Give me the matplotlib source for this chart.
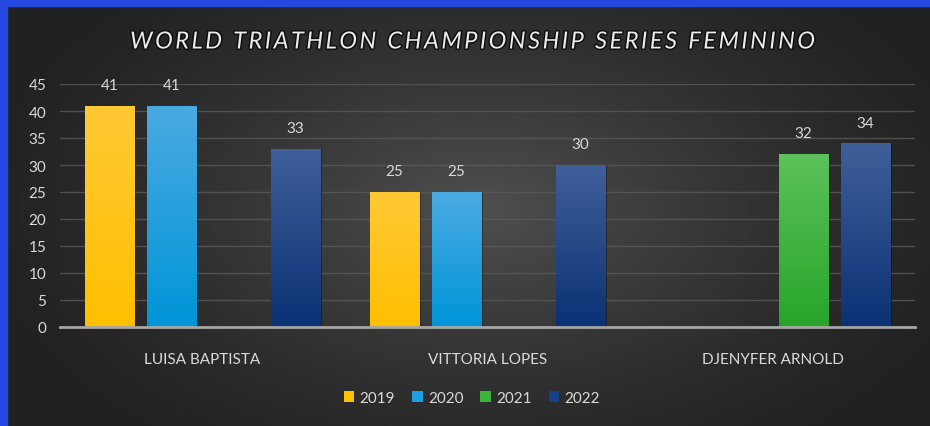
"""
World Triathlon Championship Series - feminino, bar chart with dark gradient look.
"""

import matplotlib

matplotlib.use("Agg")

import matplotlib.pyplot as plt
import matplotlib.patheffects as pe
from matplotlib.colors import LinearSegmentedColormap
from matplotlib.patches import Patch, Rectangle
import numpy as np

TITLE = "WORLD TRIATHLON CHAMPIONSHIP SERIES FEMININO"
ATHLETES = ["LUISA BAPTISTA", "VITTORIA LOPES", "DJENYFER ARNOLD"]
YEARS = ["2019", "2020", "2021", "2022"]
VALUES = {
    "2019": [41, 25, np.nan],
    "2020": [41, 25, np.nan],
    "2021": [np.nan, np.nan, 32],
    "2022": [33, 30, 34],
}
# (top colour, bottom colour) of each gradient
GRADIENTS = {
    "2019": ("#ffc935", "#ffbf00"),
    "2020": ("#4aaae2", "#0095d8"),
    "2021": ("#5cc15a", "#27a529"),
    "2022": ("#3f5f99", "#0b3175"),
}
LEGEND_COLORS = {"2019": "#ffc000", "2020": "#1ba1e2", "2021": "#3cb43c", "2022": "#153f86"}

TEXT_COLOR = "#d9d9d9"
FONT = ["Lato", "DejaVu Sans"]


def draw_background(fig):
    bg = fig.add_axes([0, 0, 1, 1], zorder=-10)
    h, w = 427, 930
    yy, xx = np.mgrid[0:h, 0:w]
    d = np.sqrt(((xx - 480) / 520.0) ** 2 + ((yy - 210) / 300.0) ** 2)
    shade = np.clip(1 - d, 0, 1) ** 1.3
    lo, hi = np.array([0.13, 0.13, 0.13]), np.array([0.31, 0.31, 0.31])
    img = lo + (hi - lo) * shade[..., None]
    bg.imshow(img, extent=(0, 1, 0, 1), aspect="auto", origin="upper")
    bg.set_axis_off()
    # blue frame on top and left only
    fig.patches.append(Rectangle((0, 1 - 7 / 427), 1, 7 / 427, transform=fig.transFigure,
                                 color="#2349e0", zorder=5))
    fig.patches.append(Rectangle((0, 0), 7 / 930, 1, transform=fig.transFigure,
                                 color="#2349e0", zorder=5))


def draw_spaced_title(fig, text, x_left, x_right, y):
    # letter-spaced title: place each character on its own
    renderer = fig.canvas.get_renderer()
    style = dict(fontsize=17, style="italic", color="#ececec", va="center", ha="left",
                 path_effects=[pe.withStroke(linewidth=2.2, foreground="#101010")])
    widths = []
    for ch in text:
        t = fig.text(0, 0, ch if ch != " " else "n", **style)
        widths.append(t.get_window_extent(renderer).width * (0.5 if ch == " " else 1.0))
        t.remove()
    fig_w = fig.get_figwidth() * fig.dpi
    gap = (x_right - x_left - sum(widths)) / (len(text) - 1)
    pos = x_left
    for ch, w in zip(text, widths):
        if ch != " ":
            fig.text(pos / fig_w, y, ch, **style)
        pos += w + gap


def main():
    plt.rcParams["font.family"] = FONT
    fig = plt.figure(figsize=(9.3, 4.27), dpi=100)
    draw_background(fig)

    ax = fig.add_axes([60 / 930, 1 - 328 / 427, 855 / 930, 243 / 427])
    ax.patch.set_alpha(0)

    x = np.arange(len(ATHLETES))
    step = 0.2175
    width = 0.175
    for i, year in enumerate(YEARS):
        offs = (i - 1.5) * step
        vals = np.array(VALUES[year], dtype=float)
        bars = ax.bar(x + offs, np.nan_to_num(vals), width, color="none", zorder=3,
                      linewidth=0)
        top, bottom = GRADIENTS[year]
        cmap = LinearSegmentedColormap.from_list(year, [bottom, top])
        for bar, v in zip(bars, vals):
            if np.isnan(v):
                continue
            x0 = bar.get_x()
            shadow = Rectangle((x0 + 0.004, 0), width, v, color="black", alpha=0.35,
                               zorder=2, linewidth=0)
            ax.add_patch(shadow)
            grad = np.linspace(0, 1, 100).reshape(-1, 1)
            im = ax.imshow(grad, cmap=cmap, origin="lower", aspect="auto",
                           extent=(x0, x0 + width, 0, v), zorder=3)
            im.set_clip_path(bar)
            ax.annotate(f"{v:.0f}", (x0 + width / 2, v), xytext=(0, 15),
                        textcoords="offset points", ha="center", va="center",
                        color=TEXT_COLOR, fontsize=11)

    ax.set_xlim(-0.5, 2.5)
    ax.set_ylim(0, 45)
    ax.set_yticks(range(0, 46, 5))
    ax.set_xticks(x)
    ax.set_xticklabels(ATHLETES)
    ax.grid(axis="y", color="#5a5a5a", linewidth=1, alpha=0.8, zorder=0)
    ax.set_axisbelow(True)
    for side in ["top", "right", "left"]:
        ax.spines[side].set_visible(False)
    ax.spines["bottom"].set_color("#a6a6a6")
    ax.spines["bottom"].set_linewidth(2)
    ax.spines["bottom"].set_zorder(4)
    ax.tick_params(axis="y", length=0, pad=10, colors=TEXT_COLOR, labelsize=11)
    ax.tick_params(axis="x", length=0, pad=18, colors=TEXT_COLOR, labelsize=11)

    draw_spaced_title(fig, TITLE, 130, 815, 1 - 43 / 427)

    handles = [Patch(facecolor=LEGEND_COLORS[y], edgecolor="none") for y in YEARS]
    leg = fig.legend(handles, YEARS, loc="center", ncol=4, frameon=False,
                     bbox_to_anchor=(472 / 930, 1 - 399 / 427), fontsize=11,
                     handlelength=0.7, handleheight=0.7, handletextpad=0.35,
                     columnspacing=1.1)
    for t in leg.get_texts():
        t.set_color(TEXT_COLOR)

    fig.savefig("out.png", dpi=100)
    plt.close(fig)


if __name__ == "__main__":
    main()
